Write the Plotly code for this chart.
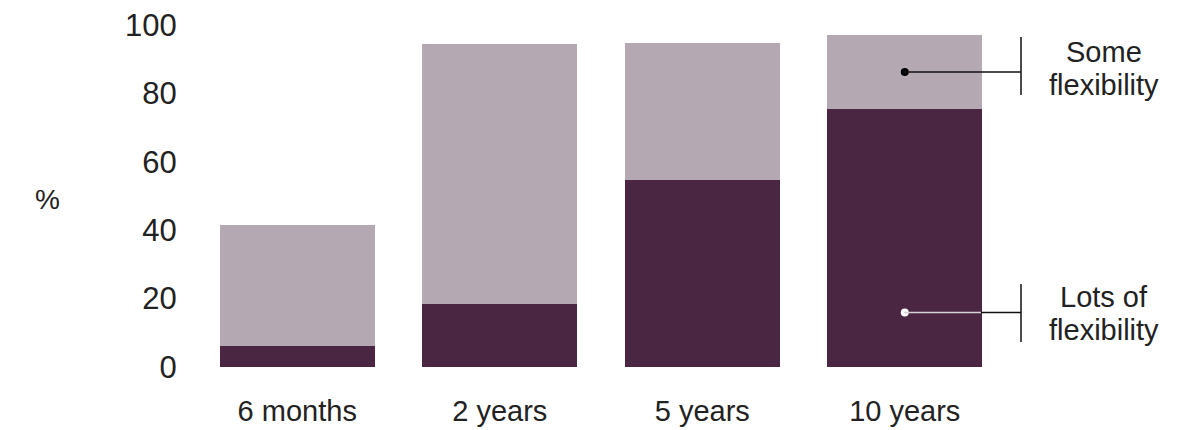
import plotly.graph_objects as go

categories = ["6 months", "2 years", "5 years", "10 years"]
lots_of_flexibility = [6.1, 18.4, 54.7, 75.4]
some_flexibility = [35.4, 76.0, 40.0, 21.7]
y_ticks = [0, 20, 40, 60, 80, 100]

DARK = "#4A2642"
LIGHT = "#B4A8B2"
TEXT = "#222222"
FONT = "Liberation Sans"

L, R, T, B = 196, 189, 25, 63
W, H = 1195, 430
PW = W - L - R


def px(xpix):
    return (xpix - L) / PW


fig = go.Figure()
fig.add_trace(go.Bar(x=categories, y=lots_of_flexibility, marker=dict(color=DARK, line=dict(width=0)),
                     name="Lots of flexibility"))
fig.add_trace(go.Bar(x=categories, y=some_flexibility, marker=dict(color=LIGHT, line=dict(width=0)),
                     name="Some flexibility"))

# legend callouts (attached to the last bar)
some_y = lots_of_flexibility[3] + some_flexibility[3] / 2
lots_y = 15.9
bx = px(1021)
dot_x = px(904)
edge_x = px(981)
blk = dict(color="#111111", width=1.5)
fig.add_shape(type="line", x0=dot_x, x1=bx, y0=some_y, y1=some_y, xref="paper", yref="y", line=blk)
fig.add_shape(type="line", x0=bx, x1=bx, y0=79.5, y1=96.5, xref="paper", yref="y", line=blk)
fig.add_shape(type="line", x0=dot_x, x1=edge_x, y0=lots_y, y1=lots_y, xref="paper", yref="y",
              line=dict(color="#d8d2d6", width=1.5))
fig.add_shape(type="line", x0=edge_x, x1=bx, y0=lots_y, y1=lots_y, xref="paper", yref="y", line=blk)
fig.add_shape(type="line", x0=bx, x1=bx, y0=7.3, y1=24.3, xref="paper", yref="y", line=blk)
fig.add_trace(go.Scatter(x=[categories[3]], y=[some_y], mode="markers",
                         marker=dict(color="#000000", size=8), hoverinfo="skip", showlegend=False))
fig.add_trace(go.Scatter(x=[categories[3]], y=[lots_y], mode="markers",
                         marker=dict(color="#ffffff", size=8), hoverinfo="skip", showlegend=False))

label_lines = [("Some", 92.1), ("flexibility", 82.5), ("Lots of", 20.5), ("flexibility", 10.8)]
for txt, yv in label_lines:
    fig.add_annotation(x=px(1104), y=yv, xref="paper", yref="y", text=txt,
                       showarrow=False, xanchor="center", yanchor="middle",
                       font=dict(family=FONT, size=29, color=TEXT))
fig.add_annotation(x=px(47), y=49, xref="paper", yref="y", text="%",
                   showarrow=False, xanchor="center", yanchor="middle",
                   font=dict(family=FONT, size=28, color=TEXT))

fig.update_layout(
    width=W, height=H,
    barmode="stack", bargap=0.235,
    showlegend=False,
    plot_bgcolor="white", paper_bgcolor="white",
    margin=dict(l=L, r=R, t=T, b=B),
    font=dict(family=FONT, size=28, color=TEXT),
    xaxis=dict(showgrid=False, showline=False, zeroline=False, automargin=False,
               ticks="outside", ticklen=18, tickcolor="rgba(0,0,0,0)",
               tickfont=dict(size=29, color=TEXT), range=[-0.5, 3.5]),
    yaxis=dict(range=[0, 100], tickvals=y_ticks, showgrid=False, showline=False, zeroline=False,
               automargin=False,
               ticks="outside", ticklen=12, tickcolor="rgba(0,0,0,0)",
               tickfont=dict(size=31, color=TEXT)),
)

fig.write_html("out.html")
